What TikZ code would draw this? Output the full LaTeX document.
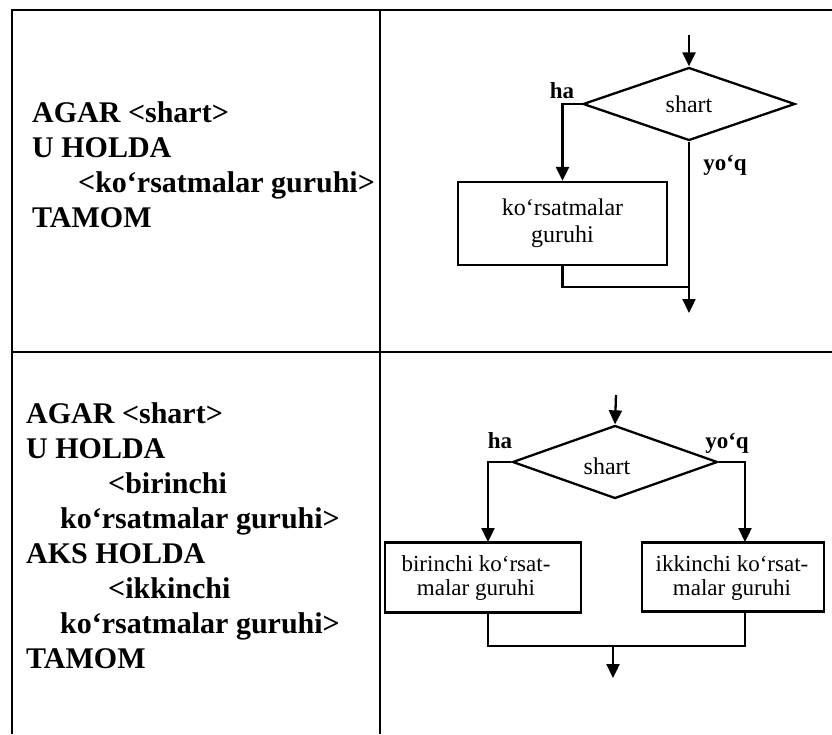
\documentclass[tikz,border=0pt]{standalone}
\usepackage{fontspec}
\setmainfont{Liberation Serif}
\usetikzlibrary{arrows.meta,shapes.geometric}
\begin{document}
\begin{tikzpicture}[x=1pt,y=-1pt,
  frame/.style={line width=2pt},
  flow/.style={line width=2.3pt},
  arr/.style={flow,-{Triangle[width=13pt,length=14pt]}},
  codeline/.style={anchor=base west,inner sep=0pt,font=\fontsize{30}{35}\selectfont\bfseries},
  cond/.style={draw,diamond,line width=2.3pt,inner sep=0pt,font=\fontsize{24}{26}\selectfont},
  stepbox/.style={draw,rectangle,line width=2.3pt,inner sep=0pt,align=center},
  boxtext/.style={inner sep=0pt,align=center,font=\fontsize{23}{24}\selectfont},
  lab/.style={inner sep=0pt,font=\fontsize{23}{24}\selectfont\bfseries}
]
\useasboundingbox (0,0) rectangle (832,734);
% table frame
\draw[frame] (12,734) -- (12,10) -- (832,10);
\draw[frame] (380,10) -- (380,734);
\draw[frame] (12,352) -- (832,352);

% ---------- top left code ----------
\node[codeline] (t1) at (32,122) {AGAR <shart>};
\node[codeline] (t2) at (32,157) {U HOLDA};
\node[codeline] (t3) at (78,192) {<ko‘rsatmalar guruhi>};
\node[codeline] (t4) at (32,227) {TAMOM};

% ---------- top flowchart ----------
\coordinate (in1) at (689,35);
\node[cond,minimum width=212pt,minimum height=73pt] (d1) at (689,104) {shart};
\node[stepbox,minimum width=209pt,minimum height=83pt,
      font=\fontsize{24}{27}\selectfont] (b1) at (562.5,223.5) {ko‘rsatmalar\\guruhi};
\coordinate (j1) at (689,287);
\coordinate (out1) at (689,313);
\node[lab] (ha1) at (562,91) {ha};
\node[lab] (yq1) at (725,165) {yo‘q};
\draw[arr] (in1) -- (d1.north);
\draw[arr] (d1.west) -| (b1.north);
\draw[arr] (d1.south) -- (out1);
\draw[flow] (b1.south) |- (j1);

% ---------- bottom left code ----------
\node[codeline] (u1) at (26,423) {AGAR <shart>};
\node[codeline] (u2) at (26,458) {U HOLDA};
\node[codeline] (u3) at (108,493) {<birinchi};
\node[codeline] (u4) at (60,528) {ko‘rsatmalar guruhi>};
\node[codeline] (u5) at (26,563) {AKS HOLDA};
\node[codeline] (u6) at (108,598) {<ikkinchi};
\node[codeline] (u7) at (60,633) {ko‘rsatmalar guruhi>};
\node[codeline] (u8) at (26,668) {TAMOM};

% ---------- bottom flowchart ----------
\coordinate (in2) at (616,395);
\node[cond,minimum width=205pt,minimum height=73pt] (d2) at (615,462) {};
\node[inner sep=0pt,font=\fontsize{24}{26}\selectfont] (s2) at (607,466) {shart};
\node[stepbox,minimum width=196pt,minimum height=70pt] (b2) at (483,577.5) {};
\node[boxtext] (bt2) at (476,578) {birinchi ko‘rsat-\\malar guruhi};
\node[stepbox,minimum width=182pt,minimum height=69pt] (b3) at (733,577) {};
\node[boxtext] (bt3) at (732,578) {ikkinchi ko‘rsat-\\malar guruhi};
\coordinate (l2) at (488,542);
\coordinate (r2) at (745,542);
\coordinate (m2) at (613,646);
\coordinate (out2) at (613,678);
\node[lab] (ha2) at (500,441) {ha};
\node[lab] (yq2) at (727,443) {yo‘q};
\draw[arr] (in2) -- (d2.north);
\draw[arr] (d2.west) -| (l2);
\draw[arr] (d2.east) -| (r2);
\draw[flow] (b2.south -| l2) |- (m2) -| (b3.south -| r2);
\draw[arr] (m2) -- (out2);
\end{tikzpicture}
\end{document}
